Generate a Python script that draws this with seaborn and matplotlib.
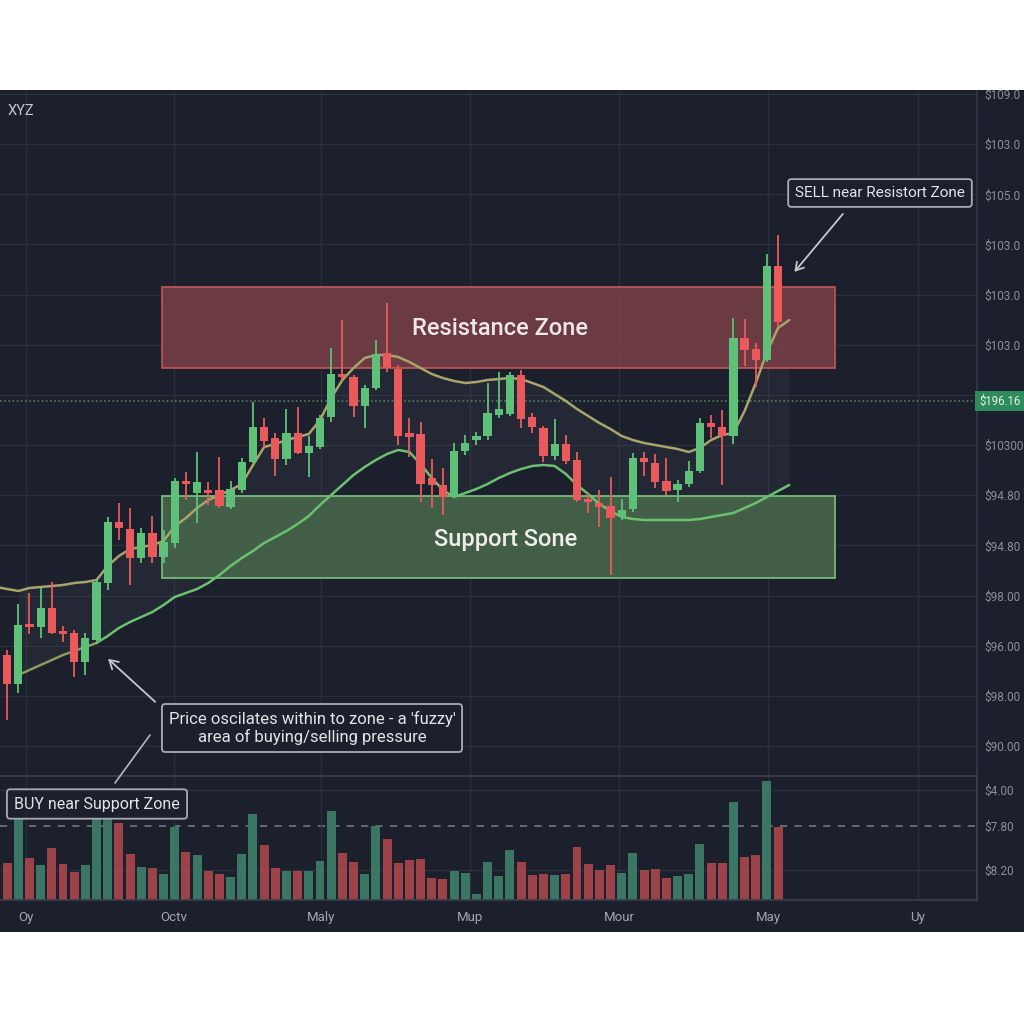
import numpy as np
import pandas as pd
import seaborn as sns
import matplotlib.pyplot as plt
import matplotlib.transforms as mtransforms
from matplotlib.patches import Rectangle
from matplotlib.lines import Line2D

# ---- data (one entry per candle, left to right) ----
opens = [102.0, 99.5, 96.6, 102.6, 102.3, 104.2, 101.9, 101.7, 98.8, 101.0,
         106.7, 112.8, 112.1, 109.2, 111.7, 109.3, 110.7, 116.9, 115.7, 115.9,
         116.0, 114.3, 116.0, 118.8, 122.3, 121.2, 119.1, 121.7, 119.7, 120.3,
         123.3, 127.6, 127.3, 124.4, 126.2, 129.7, 128.1, 121.7, 121.6, 117.2,
         116.5, 115.3, 119.9, 121.0, 121.4, 123.5, 123.6, 127.5, 123.3, 122.2,
         119.4, 120.6, 119.0, 115.0, 114.7, 114.4, 113.3, 114.1, 119.2, 118.7,
         116.9, 116.0, 116.6, 117.9, 122.7, 122.3, 121.4, 131.2, 130.1, 129.0, 138.4]
closes = [99.5, 96.6, 102.5, 102.3, 104.2, 101.7, 101.6, 98.8, 101.2, 106.8,
          112.8, 112.2, 109.2, 111.7, 109.3, 110.8, 116.9, 116.6, 116.8, 115.7,
          114.4, 116.1, 118.8, 122.3, 120.9, 119.1, 121.7, 119.7, 120.4, 123.2,
          127.6, 127.3, 124.4, 126.2, 129.6, 128.2, 121.4, 121.3, 116.6, 116.5,
          115.3, 119.9, 120.7, 121.4, 123.7, 124.1, 127.5, 123.1, 122.3, 119.4,
          120.6, 118.9, 115.0, 114.8, 114.3, 113.2, 114.0, 119.2, 118.8, 116.8,
          115.9, 116.6, 117.9, 122.7, 122.3, 121.4, 131.2, 130.0, 129.0, 138.4, 132.8]
highs = [103.0, 100.0, 104.6, 105.7, 106.2, 106.8, 102.4, 102.0, 101.7, 107.2,
         113.3, 114.7, 114.2, 112.2, 113.4, 112.0, 117.2, 117.8, 119.8, 116.8,
         119.3, 116.9, 119.2, 124.8, 123.2, 121.7, 124.1, 124.3, 121.4, 123.5,
         130.2, 133.0, 127.5, 126.5, 131.0, 134.7, 128.5, 123.2, 122.8, 119.1,
         118.2, 120.7, 121.5, 121.8, 126.7, 127.8, 127.8, 128.0, 123.7, 122.4,
         123.1, 121.5, 119.8, 115.7, 116.0, 117.3, 115.1, 119.7, 119.8, 119.6,
         119.2, 117.0, 118.9, 123.2, 123.5, 124.0, 133.2, 133.1, 130.7, 139.6, 141.5]
lows = [99.0, 93.0, 95.7, 101.6, 101.2, 101.6, 100.8, 97.3, 97.5, 100.8,
        106.0, 111.0, 106.5, 108.7, 108.7, 108.7, 110.2, 115.0, 112.7, 114.5,
        114.2, 114.1, 115.7, 118.7, 120.2, 117.4, 118.5, 119.6, 117.3, 120.1,
        122.8, 127.0, 123.3, 122.2, 126.0, 127.8, 120.5, 119.3, 114.8, 114.2,
        113.5, 115.2, 119.5, 120.5, 121.0, 123.2, 123.4, 122.2, 121.7, 118.8,
        119.0, 118.6, 114.8, 113.7, 112.3, 107.5, 113.0, 113.8, 117.4, 116.2,
        115.5, 114.8, 116.3, 117.7, 121.2, 116.5, 120.6, 128.4, 126.3, 128.8, 132.3]
volume = [4.3, 3.7, 8.1, 4.2, 3.5, 5.2, 3.6, 2.8, 3.5, 8.1,
          8.1, 7.7, 4.6, 3.3, 3.2, 2.6, 7.3, 4.8, 4.5, 2.9,
          2.6, 2.3, 4.6, 8.6, 5.5, 3.2, 2.9, 2.9, 2.9, 3.9,
          8.9, 4.7, 3.8, 2.6, 7.4, 6.1, 3.7, 4.0, 4.1, 2.2,
          2.1, 2.9, 2.7, 0.6, 3.8, 2.4, 5.0, 3.8, 2.5, 2.6,
          2.5, 2.6, 5.3, 3.6, 3.0, 3.5, 2.7, 4.7, 3.0, 3.1,
          2.2, 2.4, 2.6, 5.6, 3.7, 3.7, 9.8, 4.3, 4.5, 11.9, 7.3]

# moving averages (one point past the last candle)
ma_fast = [106.3, 106.1, 105.9, 106.2, 106.3, 106.4, 106.5, 106.7, 106.8, 107.0,
           108.4, 109.4, 110.1, 110.3, 110.5, 110.9, 112.4, 113.2, 114.2, 115.0,
           115.5, 116.0, 116.6, 118.5, 120.3, 120.6, 121.0, 121.3, 121.6, 123.0,
           125.2, 127.0, 128.2, 129.2, 129.5, 129.5, 129.3, 128.8, 128.2, 127.6,
           127.2, 126.9, 126.7, 126.8, 127.0, 127.1, 127.2, 127.1, 126.7, 126.3,
           125.6, 124.9, 124.1, 123.4, 122.7, 122.1, 121.4, 121.0, 120.7, 120.5,
           120.3, 120.1, 119.8, 120.2, 121.0, 121.5, 121.7, 123.9, 126.7, 129.8,
           132.2, 133.0]
ma_slow = [np.nan, np.nan, 97.5, 98.0, 98.5, 99.0, 99.5, 99.9, 100.3, 100.7,
           101.4, 102.2, 102.8, 103.3, 103.8, 104.5, 105.3, 105.7, 106.1, 106.7,
           107.5, 108.4, 109.2, 109.9, 110.7, 111.3, 111.9, 112.6, 113.4, 114.5,
           115.5, 116.5, 117.5, 118.3, 119.0, 119.6, 120.0, 119.8, 118.6, 117.2,
           116.0, 115.3, 115.7, 116.1, 116.6, 117.2, 117.7, 118.1, 118.4, 118.5,
           118.4, 117.6, 116.5, 115.6, 114.6, 113.9, 113.3, 113.1, 113.0, 113.0,
           113.0, 113.0, 113.0, 113.1, 113.3, 113.5, 113.7, 114.2, 114.7, 115.3,
           115.9, 116.5]

resistance = (128.2, 136.3)
support = (107.2, 115.4)
last_price = 124.9
last_tag = "$196.16"

price_labels = ["$90.00", "$98.00", "$96.00", "$98.00", "$94.80", "$94.80", "$10300",
                "", "$103.0", "$103.0", "$103.0", "$105.0", "$103.0", "$109.0"]
vol_labels = ["$8.20", "$7.80", "$4.00"]
month_labels = ["Oy", "Octv", "Maly", "Mup", "Mour", "May", "Uy"]

# ---- styling ----
BG = "#1c202d"
GRID = "#2a2f3c"
UP, DOWN = "#5fc07a", "#ea5a5d"
VUP, VDOWN = "#3d7b68", "#a4464b"
TAN, GREEN, OLIVE = "#a9a46c", "#6cc072", "#8c9a5e"
TXT = "#e4e4e8"

sns.set_theme(style="dark", rc={"axes.facecolor": BG, "figure.facecolor": "white"})
plt.rcParams["font.family"] = ["Roboto", "DejaVu Sans"]

idx = np.arange(len(opens))
idx_ma = np.arange(len(ma_fast))
df = pd.DataFrame({"bar": idx, "open": opens, "close": closes, "high": highs,
                   "low": lows, "volume": volume})
df["side"] = np.where(df["close"] >= df["open"], "up", "down")

fig = plt.figure(figsize=(10.24, 10.24), dpi=100)
fig.add_artist(Rectangle((0, 0.0898), 1, 0.8223, transform=fig.transFigure,
                         facecolor=BG, edgecolor="none", zorder=-5))
ax = fig.add_axes([0, 0.2422, 0.9541, 0.6699])
axv = fig.add_axes([0, 0.1211, 0.9541, 0.1211])

xlim = (0.36, 87.8)
xticks = [2.7, 15.9, 29.1, 42.4, 55.8, 69.1, 82.5]
yticks = np.linspace(90.4, 155.6, 14)

# zones
for (lo, hi), fc, ec in [(resistance, "#7a3f46", "#d0595e"), (support, "#4a6a4c", "#7fcf7f")]:
    ax.add_patch(Rectangle((14.86, lo), 75.11 - 14.86, hi - lo, facecolor=fc,
                           alpha=0.85, edgecolor=ec, lw=1.3, zorder=2))

# moving averages
ax.fill_between(idx_ma, ma_fast, ma_slow, color="white", alpha=0.035, lw=0, zorder=1)
sns.lineplot(x=idx_ma, y=ma_fast, color=TAN, lw=1.8, ax=ax, zorder=3)
sns.lineplot(x=idx_ma[2:10], y=ma_slow[2:10], color=OLIVE, lw=1.8, ax=ax, zorder=3)
sns.lineplot(x=idx_ma[9:], y=ma_slow[9:], color=GREEN, lw=1.8, ax=ax, zorder=3)

# candles
cols = np.where(df["side"] == "up", UP, DOWN)
ax.vlines(df["bar"], df["low"], df["high"], colors=cols, lw=1.3, zorder=4)
body = np.maximum((df["close"] - df["open"]).abs(), 0.3)
ax.bar(df["bar"], body, bottom=df[["open", "close"]].min(axis=1), width=0.74,
       color=cols, edgecolor="none", linewidth=0, zorder=5)

ax.axhline(last_price, color="#4f7d60", ls=(0, (1, 1.5)), lw=1.2, zorder=1)
ax.text(1.002, last_price, last_tag,
        transform=mtransforms.blended_transform_factory(ax.transAxes, ax.transData),
        ha="left", va="center", fontsize=8.3, color="#dff3e6", clip_on=False, zorder=10,
        bbox=dict(boxstyle="square,pad=0.3", fc="#2f8a5c", ec="none"))

ax.text(45.1, 132.2, "Resistance Zone", ha="center", va="center", fontsize=17,
        fontweight="medium", color="#efe6e6", zorder=6)
ax.text(45.6, 111.0, "Support Sone", ha="center", va="center", fontsize=17,
        fontweight="medium", color="#efefea", zorder=6)

ax.set_xlim(*xlim)
ax.set_ylim(87.4, 156.0)
ax.set_xticks(xticks)
ax.set_yticks(yticks)
ax.set_yticklabels(price_labels)
ax.yaxis.tick_right()
ax.tick_params(axis="y", length=0, pad=5, labelsize=8.5, labelcolor="#8b8f99")
ax.tick_params(axis="x", length=0, labelbottom=False)
ax.grid(True, color=GRID, lw=1)
ax.set_axisbelow(True)
ax.set_xlabel("")
ax.set_ylabel("")
for s in ["top", "left", "bottom"]:
    ax.spines[s].set_visible(False)
ax.spines["right"].set_color("#343846")

# volume
axv.axhline(11.0, color=GRID, lw=1, zorder=0)
axv.axhline(3.0, color=GRID, lw=1, zorder=0)
axv.axhline(7.4, color="#6b6f7a", ls=(0, (4, 4)), lw=1.3, zorder=0)
sns.barplot(data=df, x="bar", y="volume", hue="side", palette={"up": VUP, "down": VDOWN},
            native_scale=True, dodge=False, width=0.8, saturation=1, errorbar=None,
            legend=False, alpha=0.95, linewidth=0, edgecolor="none", ax=axv)
axv.set_xlim(*xlim)
axv.set_ylim(0, 12.4)
axv.set_xticks(xticks)
axv.set_xticklabels(month_labels)
axv.set_yticks([3.0, 7.4, 11.0])
axv.set_yticklabels(vol_labels)
axv.yaxis.tick_right()
axv.tick_params(axis="y", length=0, pad=5, labelsize=8.5, labelcolor="#8b8f99")
axv.tick_params(axis="x", length=0, pad=8, labelsize=9.5, labelcolor="#a2a6ae")
axv.grid(True, axis="x", color=GRID, lw=1)
axv.set_axisbelow(True)
axv.set_xlabel("")
axv.set_ylabel("")
axv.spines["left"].set_visible(False)
for s in ["top", "right", "bottom"]:
    axv.spines[s].set_color("#3a3f4c")


def fpx(x, y):
    return (x / 1024, 1 - y / 1024)


box = dict(boxstyle="round,pad=0.45,rounding_size=0.2", fc=BG, ec="#a9abb2", lw=1.3)
ax.annotate("SELL near Resistort Zone", xy=(71.3, 137.6), xytext=fpx(880, 193),
            textcoords="figure fraction", ha="center", va="center", fontsize=11, color=TXT,
            bbox=box, zorder=12, annotation_clip=False,
            arrowprops=dict(arrowstyle="->,head_length=0.5,head_width=0.3", color="#c8c8cc",
                            lw=1.3, relpos=(0.35, 0), shrinkA=6, shrinkB=2))
ax.annotate("Price oscilates within to zone - a 'fuzzy'\narea of buying/selling pressure",
            xy=(9.85, 99.3), xytext=fpx(312, 728), textcoords="figure fraction",
            ha="center", va="center", multialignment="center", fontsize=12, color=TXT,
            bbox=dict(box, boxstyle="round,pad=0.4,rounding_size=0.2"), zorder=12,
            annotation_clip=False,
            arrowprops=dict(arrowstyle="->,head_length=0.5,head_width=0.3", color="#c8c8cc",
                            lw=1.3, relpos=(0, 0.9), shrinkA=6, shrinkB=2))
fig.add_artist(Line2D([150 / 1024, 115 / 1024], [1 - 735 / 1024, 1 - 783 / 1024],
                      transform=fig.transFigure, color="#b8b8bc", lw=1.2, zorder=11))
fig.text(*fpx(97, 804), "BUY near Support Zone", ha="center", va="center", fontsize=11.5,
         color=TXT, bbox=box, zorder=12)
fig.text(*fpx(8, 111), "XYZ", ha="left", va="center", fontsize=10.5, color="#c4c6cc")

# white margins above and below the chart window
fig.add_artist(Rectangle((0, 1 - 90 / 1024), 1, 90 / 1024, transform=fig.transFigure,
                         facecolor="white", edgecolor="none", zorder=20))
fig.add_artist(Rectangle((0, 0), 1, 92 / 1024, transform=fig.transFigure,
                         facecolor="white", edgecolor="none", zorder=20))

fig.savefig("out.png", dpi=100)
